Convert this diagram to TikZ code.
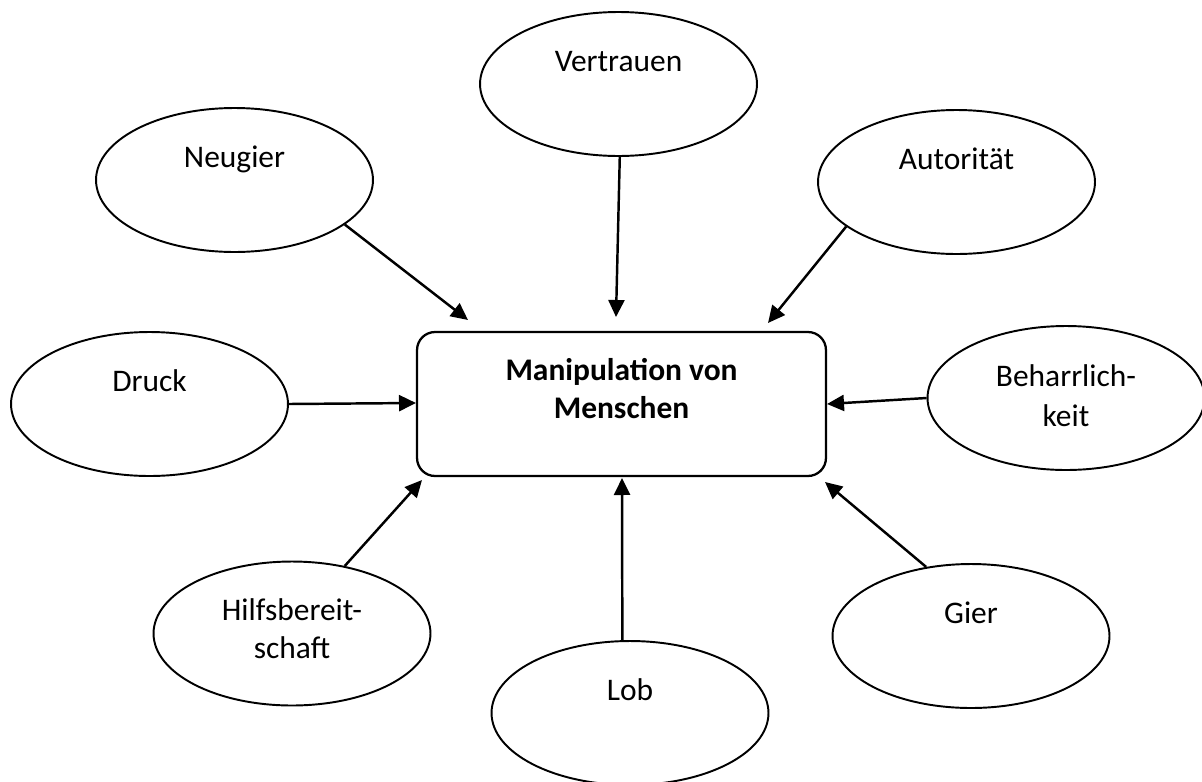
\documentclass[tikz,border=0pt]{standalone}
\usepackage{fontspec}
\setmainfont{Carlito}
\usetikzlibrary{shapes.geometric,arrows.meta}
\begin{document}
\begin{tikzpicture}[x=0.02cm,y=-0.02cm,
  ell/.style={draw, ellipse, line width=1.1pt, inner sep=0pt, minimum width=5.54cm, minimum height=2.88cm},
  lbl/.style={anchor=north, inner sep=0pt, align=center, font=\fontsize{17.9pt}{21.6pt}\selectfont},
  lblb/.style={lbl, font=\fontsize{17.9pt}{21.6pt}\selectfont\bfseries},
  box/.style={draw, rectangle, rounded corners=0.36cm, line width=1.3pt, minimum width=8.18cm, minimum height=2.88cm},
  conn/.style={line width=1.4pt, -{Triangle[length=0.34cm,width=0.32cm]}}
]
\useasboundingbox (0,0) rectangle (1202,781);

\node[box] (main) at (621.5,404) {};
\node[lblb] (mainT) at ([yshift=1.012cm]main.center) {\strut Manipulation von\\Menschen};

\node[ell] (vertrauen) at (618.5,84) {};
\node[ell] (neugier) at (234.5,180) {};
\node[ell] (autoritaet) at (956.5,182) {};
\node[ell] (druck) at (149.5,404) {};
\node[ell] (beharr) at (1066,398) {};
\node[ell] (hilfs) at (292,633.5) {};
\node[ell] (gier) at (971,636) {};
\node[ell] (lob) at (630,713) {};

\node[lbl] (vertrauenT) at ([yshift=0.792cm]vertrauen.center) {\strut Vertrauen};
\node[lbl] (neugierT) at ([yshift=0.792cm]neugier.center) {\strut Neugier};
\node[lbl] (autoritaetT) at ([yshift=0.792cm]autoritaet.center) {\strut Autorität};
\node[lbl] (druckT) at ([yshift=0.792cm]druck.center) {\strut Druck};
\node[lbl, font=\fontsize{17.9pt}{22.6pt}\selectfont] (beharrT) at ([yshift=0.792cm]beharr.center) {\strut Beharrlich-\\keit};
\node[lbl] (hilfsT) at ([yshift=0.792cm]hilfs.center) {\strut Hilfsbereit-\\schaft};
\node[lbl] (gierT) at ([yshift=0.792cm]gier.center) {\strut Gier};
\node[lbl] (lobT) at ([yshift=0.792cm]lob.center) {\strut Lob};

\coordinate (tN) at (468,320);
\coordinate (tV) at (616,317);
\coordinate (tA) at (768,323);
\coordinate (tD) at (416,403);
\coordinate (tB) at (827,404);
\coordinate (tH) at (422,480);
\coordinate (tL) at (622,478);
\coordinate (tG) at (825,482);

\draw[conn] (neugier.-22) -- (tN);
\draw[conn] (vertrauen.-89) -- (tV);
\draw[conn] (autoritaet.-158.4) -- (tA);
\draw[conn] (druck.east) -- (tD);
\draw[conn] (beharr.west) -- (tB);
\draw[conn] (hilfs.52.3) -- (tH);
\draw[conn] (lob.96.4) -- (tL);
\draw[conn] (gier.123.7) -- (tG);
\end{tikzpicture}
\end{document}
